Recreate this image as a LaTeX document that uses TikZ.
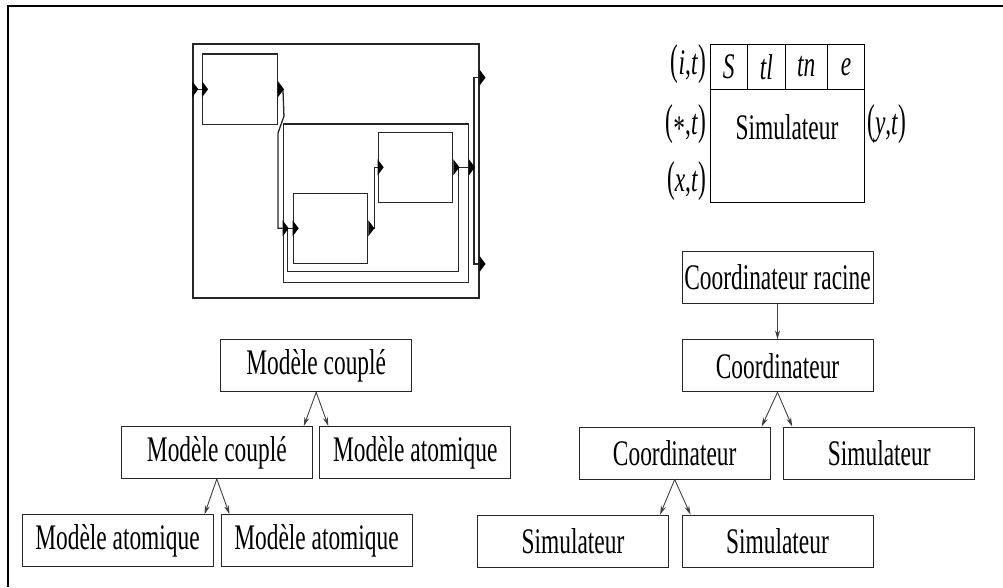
\documentclass[tikz,border=0pt]{standalone}
\usepackage{fontspec}
\setmainfont{Liberation Serif}[FakeStretch=0.65]
\usetikzlibrary{arrows.meta,calc}
\tikzset{
  treebox/.style={draw=black!85,line width=1pt,minimum width=191pt,minimum height=52pt,inner sep=0pt},
  blk/.style={draw=black!85,line width=1.3pt,inner sep=0pt},
  wire/.style={draw=black!85,line width=1.3pt},
  link/.style={draw=black!75,line width=0.9pt,-{Stealth[length=9pt,width=5pt]}},
  port/.pic={\fill (0,-8) -- (6,0) -- (0,8) -- cycle;}
}
\newcommand{\pairlbl}[2]{\scalebox{1}[1.2]{(}\textit{#1},\textit{#2}\scalebox{1}[1.2]{)}}
\begin{document}
\begin{tikzpicture}[x=1pt,y=-1pt,every node/.style={font=\fontsize{36}{40}\selectfont}]
  \useasboundingbox (0,0) rectangle (1003,587);
  \draw[line width=2.5pt] (8,587) -- (8,6) -- (1003,6);
  % coupled model with its components
  \node[blk,minimum width=286pt,minimum height=254pt] (outer) at (335.9,171) {};
  \node[blk,minimum width=74.6pt,minimum height=70.3pt] (A) at (240,89.2) {};
  \node[blk,minimum width=185pt,minimum height=158.3pt] (K) at (375.8,203.2) {};
  \node[blk,minimum width=74.4pt,minimum height=70pt] (C) at (415.5,167.3) {};
  \node[blk,minimum width=74.4pt,minimum height=70pt] (B) at (330.5,228.3) {};
  \coordinate (oin) at (outer.west |- A.west);
  \coordinate (kin) at (K.west |- B.west);
  \coordinate (kout) at (K.east |- C.east);
  \coordinate (out1) at ($(outer.north east)+(0,34.3)$);
  \coordinate (out2) at ($(outer.south east)+(0,-34.7)$);
  \draw[wire] ($(oin)+(5,0)$) -- (A.west);
  \draw[wire] ($(A.east)+(5,0)$) -- ++(1,27) -- ++(-6,17) |- (kin);
  \draw[wire] (kin) -- (B.west);
  \draw[wire] ($(B.east)+(5,0)$) -- ++(1,0) |- (C.west);
  \draw[wire] ($(C.east)+(5,0)$) -- (kout);
  \draw[wire] ($(C.east)+(5,0)$) |- ($(K.south)+(0,-11.6)$) -| ($(kin)+(5,0)$);
  \draw[wire] (out1) -| ($(K.east)+(5,0)$) |- (out2);
  \foreach \p in {oin,A.west,A.east,kin,B.west,B.east,C.west,C.east,kout,out1,out2}
    \pic at (\p) {port};
  % simulator record
  \draw[line width=1pt] (710,44) rectangle (864.3,202.3);
  \draw[line width=1pt] (710,89.3) -- (864.3,89.3);
  \foreach \x in {747.7,785,827.7}
    \draw[line width=1pt] (\x,44) -- (\x,89.3);
  \node (hS) at (728.8,67) {\textit{S}};
  \node (htl) at (766.3,67) {\textit{tl}};
  \node (htn) at (806.3,67) {\textit{tn}};
  \node (he) at (846,67) {\textit{e}};
  \node (simrec) at (787,126.7) {Simulateur};
  \node[anchor=east,inner sep=1pt] (lit) at (707,64) {\pairlbl{i}{t}};
  \node[anchor=east,inner sep=1pt] (lst) at (707,124) {\scalebox{1}[1.2]{(}\raisebox{-0.35ex}{*},\textit{t}\scalebox{1}[1.2]{)}};
  \node[anchor=east,inner sep=1pt] (lxt) at (707,181) {\pairlbl{x}{t}};
  \node[anchor=west,inner sep=1pt] (lyt) at (866,124) {\pairlbl{y}{t}};
  % model hierarchy
  \node[treebox] (mc) at (316.2,365.8) {Modèle couplé};
  \node[treebox] (mc2) at (216.8,452.5) {Modèle couplé};
  \node[treebox] (ma1) at (415.3,452.5) {Modèle atomique};
  \node[treebox] (ma2) at (117.5,540.8) {Modèle atomique};
  \node[treebox] (ma3) at (316.5,540.8) {Modèle atomique};
  \draw[link] (mc.south) -- ($(mc2.north east)+(-9,0)$);
  \draw[link] (mc.south) -- ($(ma1.north west)+(9,0)$);
  \draw[link] (mc2.south) -- ($(ma2.north east)+(-9,0)$);
  \draw[link] (mc2.south) -- ($(ma3.north west)+(9,0)$);
  % simulator hierarchy
  \node[treebox] (cr) at (777.5,277.5) {Coordinateur racine};
  \node[treebox] (co) at (777.5,365.8) {Coordinateur};
  \node[treebox] (co2) at (674.7,453) {Coordinateur};
  \node[treebox] (si1) at (879.2,453) {Simulateur};
  \node[treebox] (si2) at (573,541.2) {Simulateur};
  \node[treebox] (si3) at (777.5,541.2) {Simulateur};
  \draw[link] (cr.south) -- (co.north);
  \draw[link] (co.south) -- ($(co2.north east)+(-9,0)$);
  \draw[link] (co.south) -- ($(si1.north west)+(9,0)$);
  \draw[link] (co2.south) -- ($(si2.north east)+(-9,0)$);
  \draw[link] (co2.south) -- ($(si3.north west)+(9,0)$);
\end{tikzpicture}
\end{document}
